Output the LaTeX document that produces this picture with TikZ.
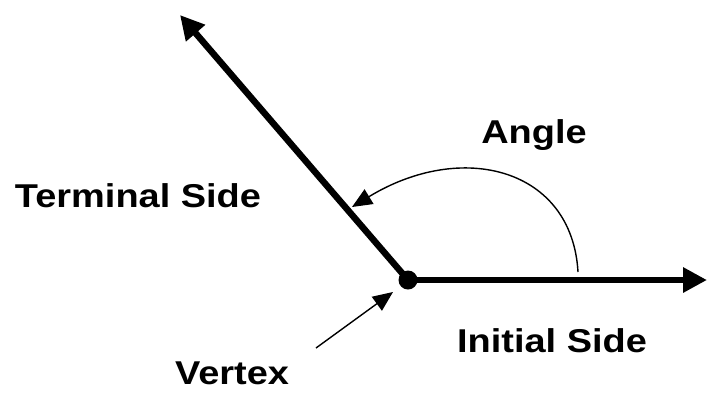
\documentclass[tikz,border=0pt]{standalone}
\usepackage{fontspec}
\setmainfont{Liberation Sans}
\usetikzlibrary{arrows.meta}
\tikzset{
  side/.style={line width=6.5pt, -{Triangle[length=24pt,width=24pt]}},
  thin arrow/.style={line width=1.4pt, -{Triangle[length=20pt,width=17pt]}},
  lbl/.style={inner sep=0pt, font=\fontsize{33}{36}\selectfont\bfseries, anchor=base},
}
\newcommand{\wide}[1]{\scalebox{1.15}[1]{#1}}
\begin{document}
\begin{tikzpicture}[x=1pt,y=-1pt]
\useasboundingbox (0,0) rectangle (708,392);
\coordinate (V) at (408,280);
\coordinate (T) at (180,15);
\coordinate (I) at (707,280);
\coordinate (A0) at (578,272);
\coordinate (A1) at (352,207);
\coordinate (P0) at (316,348);
\coordinate (P1) at (393,292);
\draw[side] (V) -- (T);
\draw[side] (V) -- (I);
\fill (V) circle (9.5);
\draw[thin arrow] (A0) .. controls (572,168) and (462,140) .. (A1);
\draw[thin arrow] (P0) -- (P1);
\node[lbl] (angle) at (534,143) {\wide{Angle}};
\node[lbl] (term) at (138,207) {\wide{Terminal Side}};
\node[lbl] (init) at (552,352) {\wide{Initial Side}};
\node[lbl] (vert) at (232,384) {\wide{Vertex}};
\end{tikzpicture}
\end{document}
